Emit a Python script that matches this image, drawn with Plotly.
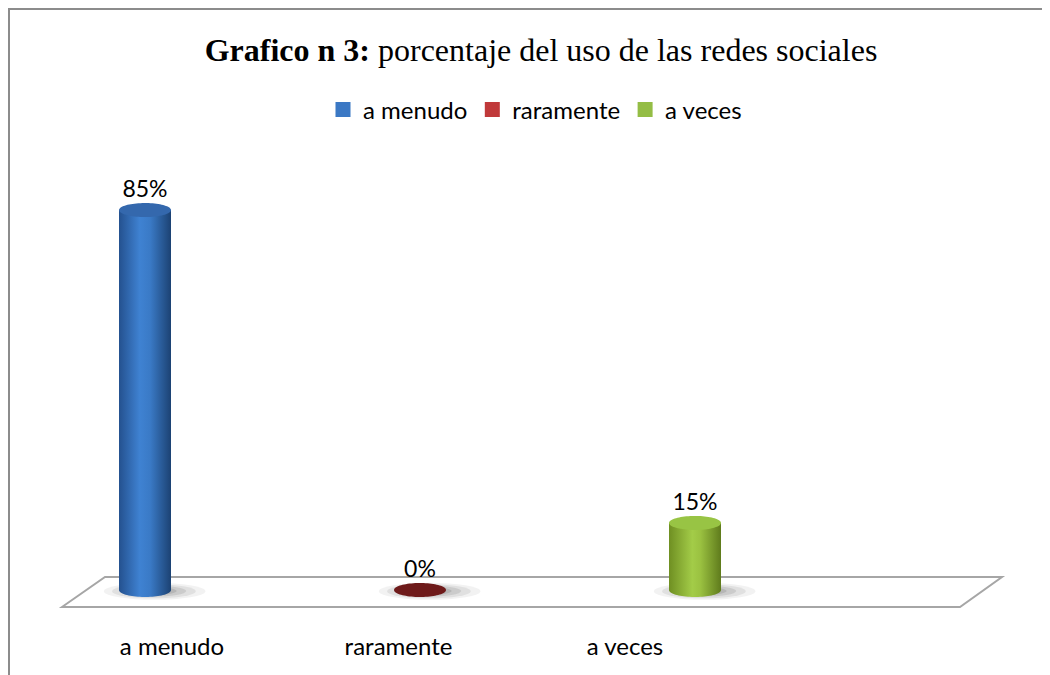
import numpy as np
import plotly.graph_objects as go

categories = ["a menudo", "raramente", "a veces"]
values = [85, 0, 15]
labels = ["85%", "0%", "15%"]

body_scales = [
    [[0, "#24518f"], [0.4, "#3f82d2"], [0.6, "#3a7ac6"], [1, "#1c4273"]],
    [[0, "#5a1212"], [0.5, "#7a1d1d"], [1, "#4d0f0f"]],
    [[0, "#6f8f22"], [0.45, "#a3cc48"], [0.6, "#9bc241"], [1, "#5f7b1c"]],
]
cap_colors = ["#3468ad", "#6e1a1a", "#98c444"]
legend_colors = ["#3b78c4", "#c0393a", "#94bd45"]

# the page body has an 8px margin, so the figure is a bit smaller than the window
OFF = 8
W, H = 1050 - OFF, 675 - OFF
HALF_W = 26 / 275      # cylinder half width in category units
HALF_H = 7 / 4.47      # cap half height in value units
t = np.linspace(0, np.pi, 40)
tt = np.linspace(0, 2 * np.pi, 80)


def px(x, y):
    """window pixel -> paper coords"""
    return (x - OFF) / W, 1 - (y - OFF) / H


fig = go.Figure()

for i, (cat, v) in enumerate(zip(categories, values)):
    # soft shadow on the floor
    for k, a in enumerate([0.05, 0.07, 0.09, 0.1]):
        fig.add_shape(
            type="circle", xref="x", yref="y", layer="below",
            x0=i - 0.15 + k * 0.03, x1=i + 0.22 - k * 0.035,
            y0=-2.2 + k * 0.35, y1=1.6 - k * 0.3,
            fillcolor=f"rgba(0,0,0,{a})", line_width=0,
        )
    # cylinder body: straight sides plus the rounded bottom
    bx = np.concatenate([[i - HALF_W, i - HALF_W, i + HALF_W, i + HALF_W], i + HALF_W * np.cos(t)])
    by = np.concatenate([[0, v, v, 0], -HALF_H * np.sin(t)])
    if v > 0:
        fig.add_trace(go.Scatter(
            x=bx, y=by, mode="none", fill="toself",
            fillgradient=dict(type="horizontal", colorscale=body_scales[i]),
            showlegend=False, hoverinfo="skip",
        ))
    # top cap
    fig.add_trace(go.Scatter(
        x=i + HALF_W * np.cos(tt), y=v + HALF_H * np.sin(tt), mode="none", fill="toself",
        fillcolor=cap_colors[i], showlegend=False, hoverinfo="skip",
    ))
    # legend entry
    fig.add_trace(go.Scatter(
        x=[None], y=[None], mode="markers", name=cat,
        marker=dict(symbol="square", size=15, color=legend_colors[i]),
    ))

fig.add_trace(go.Scatter(
    x=list(range(len(values))), y=[v + HALF_H for v in values], mode="text",
    text=labels, textposition="top center",
    textfont=dict(family="Lato", size=23, color="#000000"),
    showlegend=False, hoverinfo="skip",
))

# category labels on a second axis
fig.add_trace(go.Scatter(x=categories, y=[None] * 3, xaxis="x2", showlegend=False, hoverinfo="skip"))

# floor
p = [px(62, 607), px(105, 577), px(1002, 577), px(960, 607)]
floor_path = "M " + " L ".join(f"{a},{b}" for a, b in p) + " Z"
fig.add_shape(type="path", xref="paper", yref="paper", path=floor_path, layer="below",
              line=dict(color="#a6a6a6", width=2), fillcolor="rgba(0,0,0,0)")

# chart border (runs off the right and bottom edges)
bx0, by0 = px(9, 9)
fig.add_shape(type="rect", xref="paper", yref="paper", x0=bx0, y0=-0.05, x1=1.05, y1=by0,
              line=dict(color="#8c8c8c", width=2), fillcolor="rgba(0,0,0,0)")

fig.update_layout(
    template="none",
    width=W, height=H,
    margin=dict(l=0, r=0, t=0, b=0),
    paper_bgcolor="white", plot_bgcolor="white",
    title=dict(
        text="<b>Grafico n 3:</b> porcentaje del uso de las redes sociales",
        font=dict(family="Liberation Serif", size=32, color="#000000"),
        x=px(541, 0)[0], xanchor="center", y=px(0, 50)[1], yanchor="middle",
    ),
    legend=dict(
        orientation="h", x=px(535, 0)[0], xanchor="center", y=px(0, 110)[1], yanchor="middle",
        font=dict(family="Lato", size=24, color="#000000"), bgcolor="rgba(0,0,0,0)",
        itemwidth=30,
    ),
    xaxis=dict(range=[-(145 - OFF) / 275, (W - 145 + OFF) / 275], domain=[0, 1], visible=False),
    xaxis2=dict(
        overlaying="x", anchor="y", type="category",
        range=[-(172 - OFF) / 226.5, (W - 172 + OFF) / 226.5],
        showgrid=False, showline=False, zeroline=False, ticks="",
        tickfont=dict(family="Lato", size=24, color="#000000"),
    ),
    yaxis=dict(range=[-(630 - 590) / 4.47, (590 - OFF) / 4.47], domain=[45 / H, 1], visible=False),
    showlegend=True,
)

fig.write_html("out.html")
